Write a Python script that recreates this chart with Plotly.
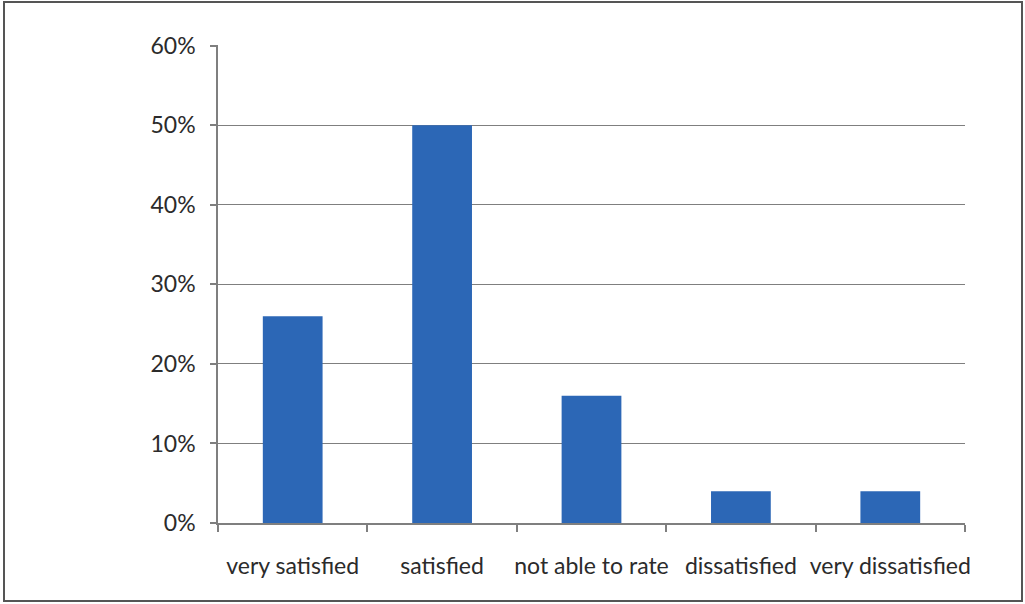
import plotly.graph_objects as go

categories = ["very satisfied", "satisfied", "not able to rate", "dissatisfied", "very dissatisfied"]
shares = [0.26, 0.50, 0.16, 0.04, 0.04]
y_ticks = [0, 0.1, 0.2, 0.3, 0.4, 0.5, 0.6]
y_tick_labels = ["0%", "10%", "20%", "30%", "40%", "50%", "60%"]

W, H = 1025, 604
L, R, T, B = 218, 60, 45, 81
pw, ph = W - L - R, H - T - B

fig = go.Figure(go.Bar(
    x=categories, y=shares,
    marker=dict(color="#2c67b6", line=dict(width=0)),
    width=0.4,
))

axis_col = "#7f7f7f"
text_col = "#2b2b2b"
font_family = "Lato, Open Sans, sans-serif"
fsize = 23

fig.update_layout(
    width=W, height=H,
    margin=dict(l=L, r=R, t=T, b=B, autoexpand=False),
    paper_bgcolor="white", plot_bgcolor="white",
    showlegend=False,
    font=dict(family=font_family, size=fsize, color=text_col),
    xaxis=dict(
        type="category", tickson="boundaries", ticks="outside", ticklen=7,
        tickcolor=axis_col, tickwidth=1.5, showline=True, linecolor=axis_col,
        linewidth=1.5, showgrid=False, ticklabelstandoff=22, tickangle=0,
        automargin=False, tickfont=dict(size=fsize, color=text_col),
    ),
    yaxis=dict(
        range=[0, 0.6008], tickvals=y_ticks, ticktext=y_tick_labels,
        ticks="outside", ticklen=6, tickcolor=axis_col, tickwidth=1.5,
        showline=True, linecolor=axis_col, linewidth=1.5, automargin=False,
        showgrid=True, gridcolor=axis_col, gridwidth=1.2, zeroline=False,
        ticklabelstandoff=10, tickfont=dict(size=fsize, color=text_col),
    ),
)

# outer frame around the whole chart
fig.add_shape(
    type="rect", xref="paper", yref="paper",
    x0=(4 - L) / pw, x1=(1022 - L) / pw,
    y0=(H - B - 601) / ph, y1=(H - B - 2) / ph,
    line=dict(color="#555555", width=2), fillcolor="rgba(0,0,0,0)", layer="below",
)

fig.write_html("out.html")
